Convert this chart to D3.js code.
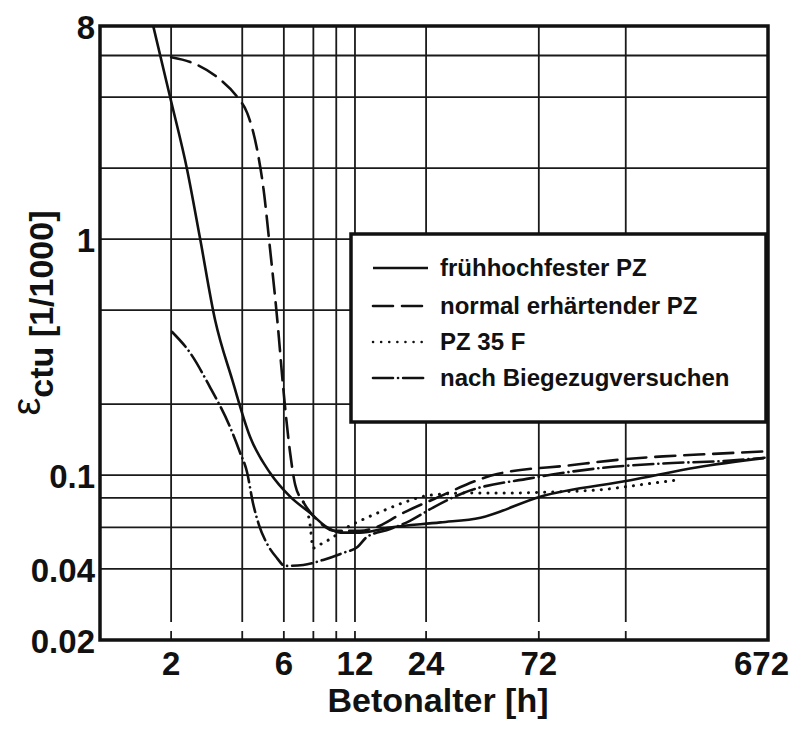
<!DOCTYPE html>
<html>
<head>
<meta charset="utf-8">
<script src="https://cdn.jsdelivr.net/npm/d3@7"></script>
<style>
  body { margin: 0; background: #fff; }
  svg { display: block; }
  text { font-family: 'Liberation Sans', Arial, sans-serif; font-weight: bold; fill: #111; }
</style>
</head>
<body>
<svg id="chart" width="796" height="730"></svg>
<script>
// ---- Data ----
const hourTicks = [2, 6, 12, 24, 72, 672];
const hourGrid = [2, 4, 6, 8, 10, 12, 24, 72, 168];
const strainTicks = [0.02, 0.04, 0.1, 1, 8];
const strainGrid = [0.04, 0.06, 0.08, 0.1, 0.2, 0.5, 1, 2, 4, 6];

// [Betonalter h, eps_ctu 1/1000]
const fruehhochfest = [
  [1.68, 8.0], [1.98, 4.0], [2.34, 1.96], [2.65, 1.01], [3.07, 0.454],
  [3.63, 0.253], [4.32, 0.145], [5.25, 0.102], [6.38, 0.081], [7.76, 0.069],
  [9.16, 0.060], [10.4, 0.057], [12.6, 0.057], [16.9, 0.060], [27.6, 0.063],
  [40.8, 0.066], [73, 0.081], [176, 0.095], [339, 0.108], [645, 0.118]
];
const normalPZ = [
  [2.0, 5.9], [2.41, 5.63], [3.13, 4.86], [3.81, 4.0], [4.2, 3.42],
  [4.63, 2.38], [4.91, 1.66], [5.25, 0.90], [5.63, 0.454], [5.96, 0.236],
  [6.38, 0.124], [6.70, 0.091], [7.25, 0.077], [8.3, 0.0645], [9.9, 0.058],
  [12.6, 0.058], [15.3, 0.061], [18.6, 0.068], [25.8, 0.079], [48, 0.101],
  [98, 0.110], [155, 0.116], [242, 0.120], [395, 0.123], [650, 0.126]
];
const pz35f = [
  [7.25, 0.077], [7.75, 0.0615], [7.98, 0.049], [8.7, 0.0513], [9.4, 0.0535],
  [11.1, 0.060], [13.3, 0.0656], [16.1, 0.0712], [19.6, 0.0769], [25, 0.0822],
  [38, 0.084], [56, 0.084], [89, 0.085], [131, 0.0866], [194, 0.091], [278, 0.0953]
];
const biegezug = [
  [2.02, 0.404], [2.41, 0.329], [2.92, 0.236], [3.55, 0.16], [3.91, 0.125],
  [4.19, 0.103], [4.44, 0.0762], [4.71, 0.0614], [5.13, 0.0505], [5.61, 0.0445],
  [6.06, 0.0412], [7.25, 0.0416], [8.8, 0.0437], [10.7, 0.0468], [12.3, 0.0496],
  [13.5, 0.0547], [16.9, 0.059], [20.5, 0.064], [25.8, 0.073], [34.5, 0.084],
  [66, 0.0968], [127, 0.1067], [242, 0.112], [466, 0.1152], [650, 0.1184]
];

const seriesNames = ['frühhochfester PZ', 'normal erhärtender PZ', 'PZ 35 F', 'nach Biegezugversuchen'];
const seriesData = [fruehhochfest, normalPZ, pz35f, biegezug];
const seriesDash = ['none', '20,9', '0.1,8', '20,5,0.1,5'];

(function () {
  'use strict';

  const svg = d3.select('#chart');
  const plot = { left: 100, right: 768, top: 26, bottom: 640 };

  const x = d3.scaleLog().domain([1, 672]).range([plot.left, plot.right]);
  const y = d3.scaleLog().domain([0.02, 8]).range([plot.bottom, plot.top]);

  svg.append('defs').append('clipPath').attr('id', 'plot-clip')
    .append('rect')
    .attr('x', plot.left).attr('y', plot.top)
    .attr('width', plot.right - plot.left).attr('height', plot.bottom - plot.top);

  // ---- Grid ----
  const grid = svg.append('g').attr('stroke', '#1a1a1a').attr('stroke-width', 1.8);

  grid.selectAll('line.h')
    .data(strainGrid)
    .enter().append('line')
    .attr('class', 'h')
    .attr('x1', plot.left).attr('x2', plot.right)
    .attr('y1', function (d) { return y(d); })
    .attr('y2', function (d) { return y(d); });

  // vertical lines stop a bit short of the bottom axis, then a small tick
  grid.selectAll('line.v')
    .data(hourGrid)
    .enter().append('line')
    .attr('class', 'v')
    .attr('y1', plot.top).attr('y2', plot.bottom - 18)
    .attr('x1', function (d) { return x(d); })
    .attr('x2', function (d) { return x(d); });

  grid.selectAll('line.t')
    .data(hourGrid)
    .enter().append('line')
    .attr('class', 't')
    .attr('y1', plot.bottom - 9).attr('y2', plot.bottom)
    .attr('x1', function (d) { return x(d); })
    .attr('x2', function (d) { return x(d); });

  // ---- Curves ----
  const line = d3.line()
    .x(function (d) { return x(d[0]); })
    .y(function (d) { return y(d[1]); })
    .curve(d3.curveMonotoneX);

  svg.append('g')
    .attr('clip-path', 'url(#plot-clip)')
    .selectAll('path')
    .data(seriesData)
    .enter().append('path')
    .attr('d', line)
    .attr('fill', 'none')
    .attr('stroke', '#111')
    .attr('stroke-width', function (d, i) { return i === 2 ? 3 : 2.6; })
    .attr('stroke-linecap', function (d, i) { return i === 0 ? 'butt' : 'round'; })
    .attr('stroke-dasharray', function (d, i) { return seriesDash[i]; });

  // ---- Legend ----
  const legend = svg.append('g');
  legend.append('rect')
    .attr('x', 351).attr('y', 234)
    .attr('width', 415).attr('height', 188)
    .attr('fill', '#fff')
    .attr('stroke', '#111')
    .attr('stroke-width', 3.5);

  const rowY = [268, 306, 342, 378];
  const item = legend.selectAll('g.item')
    .data(seriesNames)
    .enter().append('g')
    .attr('class', 'item')
    .attr('transform', function (d, i) { return 'translate(0,' + rowY[i] + ')'; });

  item.append('line')
    .attr('x1', 373).attr('x2', 428)
    .attr('stroke', '#111')
    .attr('stroke-width', function (d, i) { return i === 2 ? 2.5 : 2.6; })
    .attr('stroke-linecap', function (d, i) { return i === 0 ? 'butt' : 'round'; })
    .attr('stroke-dasharray', function (d, i) { return seriesDash[i]; });

  item.append('text')
    .attr('x', 440)
    .attr('dy', '0.35em')
    .attr('font-size', 24)
    .text(function (d) { return d; });

  // ---- Frame ----
  svg.append('rect')
    .attr('x', plot.left).attr('y', plot.top)
    .attr('width', plot.right - plot.left).attr('height', plot.bottom - plot.top)
    .attr('fill', 'none')
    .attr('stroke', '#111')
    .attr('stroke-width', 3.5);

  // ---- Tick labels ----
  svg.append('g').selectAll('text')
    .data(strainTicks)
    .enter().append('text')
    .attr('x', 95)
    .attr('y', function (d) { return y(d) + 1; })
    .attr('dy', '0.36em')
    .attr('text-anchor', 'end')
    .attr('font-size', 33)
    .text(function (d) { return String(d); });

  svg.append('g').selectAll('text')
    .data(hourTicks)
    .enter().append('text')
    .attr('x', function (d) { return d === 672 ? 789 : x(d); })
    .attr('y', 675)
    .attr('text-anchor', function (d) { return d === 672 ? 'end' : 'middle'; })
    .attr('font-size', 33)
    .text(function (d) { return String(d); });

  // ---- Axis titles ----
  svg.append('text')
    .attr('x', 438)
    .attr('y', 712)
    .attr('text-anchor', 'middle')
    .attr('font-size', 34)
    .text('Betonalter [h]');

  const yTitle = svg.append('text')
    .attr('transform', 'translate(53,313) rotate(-90)')
    .attr('text-anchor', 'middle')
    .attr('font-size', 34);
  yTitle.append('tspan')
    .attr('dy', -13)
    .attr('font-weight', 'normal')
    .attr('font-size', 40)
    .text('ε');
  yTitle.append('tspan')
    .attr('dy', 13)
    .text('ctu');
  yTitle.append('tspan')
    .text(' [1/1000]');
})();
</script>
</body>
</html>
